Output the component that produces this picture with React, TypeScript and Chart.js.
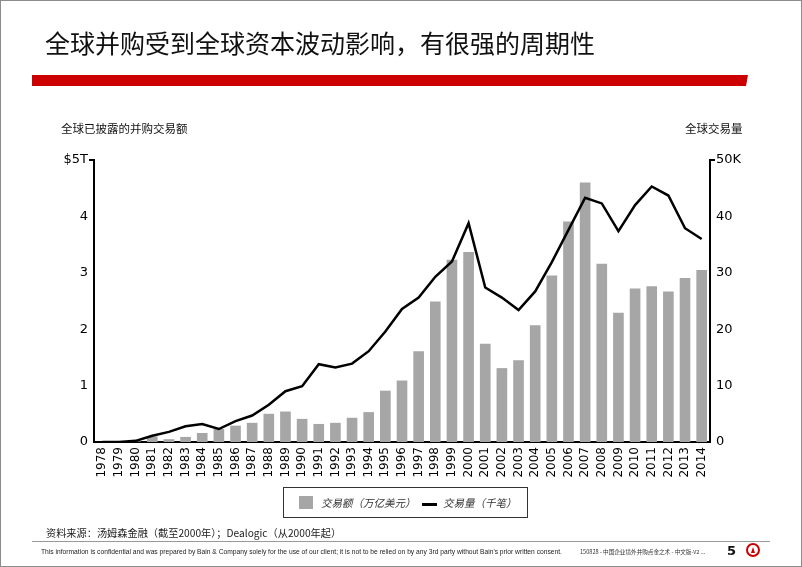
import React, { useEffect, useRef } from "react";
import { Chart, registerables } from "chart.js";

Chart.register(...registerables);

const years = [
  "1978", "1979", "1980", "1981", "1982", "1983", "1984", "1985", "1986", "1987",
  "1988", "1989", "1990", "1991", "1992", "1993", "1994", "1995", "1996", "1997",
  "1998", "1999", "2000", "2001", "2002", "2003", "2004", "2005", "2006", "2007",
  "2008", "2009", "2010", "2011", "2012", "2013", "2014",
];

// 交易额（万亿美元）
const dealValue = [
  0, 0, 0.01, 0.1, 0.05, 0.09, 0.16, 0.23, 0.29, 0.34,
  0.5, 0.54, 0.41, 0.32, 0.34, 0.43, 0.53, 0.91, 1.09, 1.61,
  2.49, 3.23, 3.37, 1.74, 1.31, 1.45, 2.07, 2.95, 3.91, 4.6,
  3.16, 2.29, 2.72, 2.76, 2.67, 2.91, 3.05,
];

// 交易量（千笔）
const dealCount = [
  0, 0, 0.2, 1.1, 1.8, 2.8, 3.2, 2.3, 3.7, 4.7,
  6.6, 9.0, 9.9, 13.8, 13.2, 13.9, 16.1, 19.6, 23.6, 25.6,
  29.3, 32.0, 38.8, 27.4, 25.6, 23.4, 26.7, 31.9, 37.6, 43.3,
  42.3, 37.4, 42.0, 45.3, 43.7, 37.9, 36.0,
];

const leftTicks = [0, 1, 2, 3, 4, 5];
const rightTicks = [0, 10, 20, 30, 40, 50];

const topTickPlugin = {
  id: "topTicks",
  afterDraw(chart: any) {
    const ctx = chart.ctx;
    const y = chart.scales.y;
    const y1 = chart.scales.y1;
    ctx.save();
    ctx.strokeStyle = "#000";
    ctx.lineWidth = 2;
    ctx.beginPath();
    ctx.moveTo(y.right - 5, y.top);
    ctx.lineTo(y.right, y.top);
    ctx.moveTo(y1.left, y1.top);
    ctx.lineTo(y1.left + 5, y1.top);
    ctx.stroke();
    ctx.restore();
  },
};

export default function App() {
  const canvasRef = useRef<HTMLCanvasElement | null>(null);

  useEffect(() => {
    document.body.style.margin = "0";
    const canvas = canvasRef.current;
    if (!canvas) return;
    const tickFont = { family: "'DejaVu Sans', Verdana, sans-serif", size: 13 };
    const chart = new Chart(canvas, {
      type: "bar",
      data: {
        labels: years,
        datasets: [
          {
            type: "line",
            label: "交易量（千笔）",
            data: dealCount,
            yAxisID: "y1",
            borderColor: "#000",
            borderWidth: 2.5,
            pointRadius: 0,
            tension: 0,
            order: 0,
          } as any,
          {
            type: "bar",
            label: "交易额（万亿美元）",
            data: dealValue,
            yAxisID: "y",
            backgroundColor: "#a6a6a6",
            categoryPercentage: 1,
            barPercentage: 0.64,
            order: 1,
          },
        ],
      },
      options: {
        responsive: false,
        animation: false,
        maintainAspectRatio: false,
        layout: { padding: { left: 54, right: 52, top: 160, bottom: 89 } },
        plugins: { legend: { display: false }, tooltip: { enabled: false } },
        scales: {
          x: {
            type: "category",
            offset: true,
            grid: { display: false, drawTicks: false },
            border: { display: true, color: "#000", width: 2 },
            ticks: {
              minRotation: 90,
              maxRotation: 90,
              autoSkip: false,
              padding: 5,
              color: "#000",
              font: { family: "'DejaVu Sans', Verdana, sans-serif", size: 12 },
            },
            afterFit: (s: any) => {
              s.height = 36;
            },
          },
          y: {
            position: "left",
            min: 0,
            max: 5,
            grid: { display: false, drawTicks: false },
            border: { display: true, color: "#000", width: 2 },
            afterBuildTicks: (s: any) => {
              s.ticks = leftTicks.map((v) => ({ value: v }));
            },
            ticks: {
              padding: 6,
              color: "#000",
              font: tickFont,
              callback: (v: any) => (v === 5 ? "$5T" : String(v)),
            },
            afterFit: (s: any) => {
              s.width = 40;
            },
          },
          y1: {
            position: "right",
            min: 0,
            max: 50,
            grid: { display: false, drawTicks: false },
            border: { display: true, color: "#000", width: 2 },
            afterBuildTicks: (s: any) => {
              s.ticks = rightTicks.map((v) => ({ value: v }));
            },
            ticks: {
              padding: 6,
              color: "#000",
              font: tickFont,
              callback: (v: any) => (v === 50 ? "50K" : String(v)),
            },
            afterFit: (s: any) => {
              s.width = 40;
            },
          },
        },
      },
      plugins: [topTickPlugin],
    });
    return () => chart.destroy();
  }, []);

  const cjk = "'Noto Sans CJK SC', 'Noto Sans', sans-serif";

  return (
    <div
      style={{
        position: "relative",
        width: 802,
        height: 567,
        overflow: "hidden",
        background: "#fff",
        fontFamily: cjk,
      }}
    >
      <canvas
        ref={canvasRef}
        width={802}
        height={567}
        style={{ position: "absolute", left: 0, top: 0, width: 802, height: 567 }}
      />
      {/* page frame */}
      <div
        style={{
          position: "absolute",
          left: 0,
          top: 0,
          width: 802,
          height: 567,
          boxSizing: "border-box",
          border: "1px solid #8c8c8c",
          pointerEvents: "none",
        }}
      />
      {/* title */}
      <div
        style={{
          position: "absolute",
          left: 45,
          top: 26,
          fontSize: 25,
          lineHeight: "32px",
          color: "#111",
          whiteSpace: "nowrap",
        }}
      >
        全球并购受到全球资本波动影响，有很强的周期性
      </div>
      {/* red band */}
      <div
        style={{
          position: "absolute",
          left: 32,
          top: 75,
          width: 716,
          height: 11,
          background: "#cc0000",
          clipPath: "polygon(0 0, 100% 0, calc(100% - 2px) 100%, 0 100%)",
        }}
      />
      {/* axis titles */}
      <div
        style={{
          position: "absolute",
          left: 61,
          top: 119,
          fontSize: 11.5,
          lineHeight: "18px",
          color: "#111",
          whiteSpace: "nowrap",
        }}
      >
        全球已披露的并购交易额
      </div>
      <div
        style={{
          position: "absolute",
          left: 685,
          top: 119,
          fontSize: 11.5,
          lineHeight: "18px",
          color: "#111",
          whiteSpace: "nowrap",
        }}
      >
        全球交易量
      </div>
      {/* legend */}
      <div
        style={{
          position: "absolute",
          left: 283,
          top: 487,
          width: 245,
          height: 31,
          boxSizing: "border-box",
          border: "1px solid #333",
          fontSize: 10.5,
          fontStyle: "italic",
          color: "#333",
          whiteSpace: "nowrap",
        }}
      >
        <span
          style={{
            position: "absolute",
            left: 15,
            top: 8,
            width: 14,
            height: 13,
            background: "#a6a6a6",
          }}
        />
        <span style={{ position: "absolute", left: 37, top: 7, lineHeight: "15px" }}>
          交易额（万亿美元）
        </span>
        <span
          style={{
            position: "absolute",
            left: 138,
            top: 15,
            width: 15,
            height: 3,
            background: "#000",
          }}
        />
        <span style={{ position: "absolute", left: 159, top: 7, lineHeight: "15px" }}>
          交易量（千笔）
        </span>
      </div>
      {/* source */}
      <div
        style={{
          position: "absolute",
          left: 46,
          top: 525,
          fontSize: 10.2,
          lineHeight: "16px",
          color: "#222",
          whiteSpace: "nowrap",
        }}
      >
        资料来源：汤姆森金融（截至2000年）；Dealogic（从2000年起）
      </div>
      <div
        style={{
          position: "absolute",
          left: 32,
          top: 541,
          width: 738,
          height: 1,
          background: "#999",
        }}
      />
      {/* footer */}
      <div
        style={{
          position: "absolute",
          left: 41,
          top: 547,
          fontSize: 6.7,
          lineHeight: "10px",
          color: "#222",
          whiteSpace: "nowrap",
          fontFamily: "'Liberation Sans Narrow', 'Liberation Sans', sans-serif",
        }}
      >
        This information is confidential and was prepared by Bain &amp; Company solely for the use of our client; it is not to be relied on by any 3rd party without Bain's prior written consent.
      </div>
      <div
        style={{
          position: "absolute",
          left: 580,
          top: 547,
          fontSize: 5.6,
          lineHeight: "10px",
          color: "#333",
          whiteSpace: "nowrap",
        }}
      >
        150828 - 中国企业境外并购点金之术 - 中文版-v2 ...
      </div>
      <div
        style={{
          position: "absolute",
          left: 727,
          top: 543,
          fontSize: 13,
          fontWeight: "bold",
          lineHeight: "16px",
          color: "#111",
          fontFamily: "'DejaVu Sans', sans-serif",
        }}
      >
        5
      </div>
      <div
        style={{
          position: "absolute",
          left: 746,
          top: 543,
          width: 14,
          height: 14,
          boxSizing: "border-box",
          borderRadius: "50%",
          border: "2px solid #cc0000",
        }}
      >
        <div
          style={{
            position: "absolute",
            left: 3,
            top: 2,
            width: 0,
            height: 0,
            borderLeft: "2.5px solid transparent",
            borderRight: "2.5px solid transparent",
            borderBottom: "6px solid #cc0000",
          }}
        />
      </div>
    </div>
  );
}
